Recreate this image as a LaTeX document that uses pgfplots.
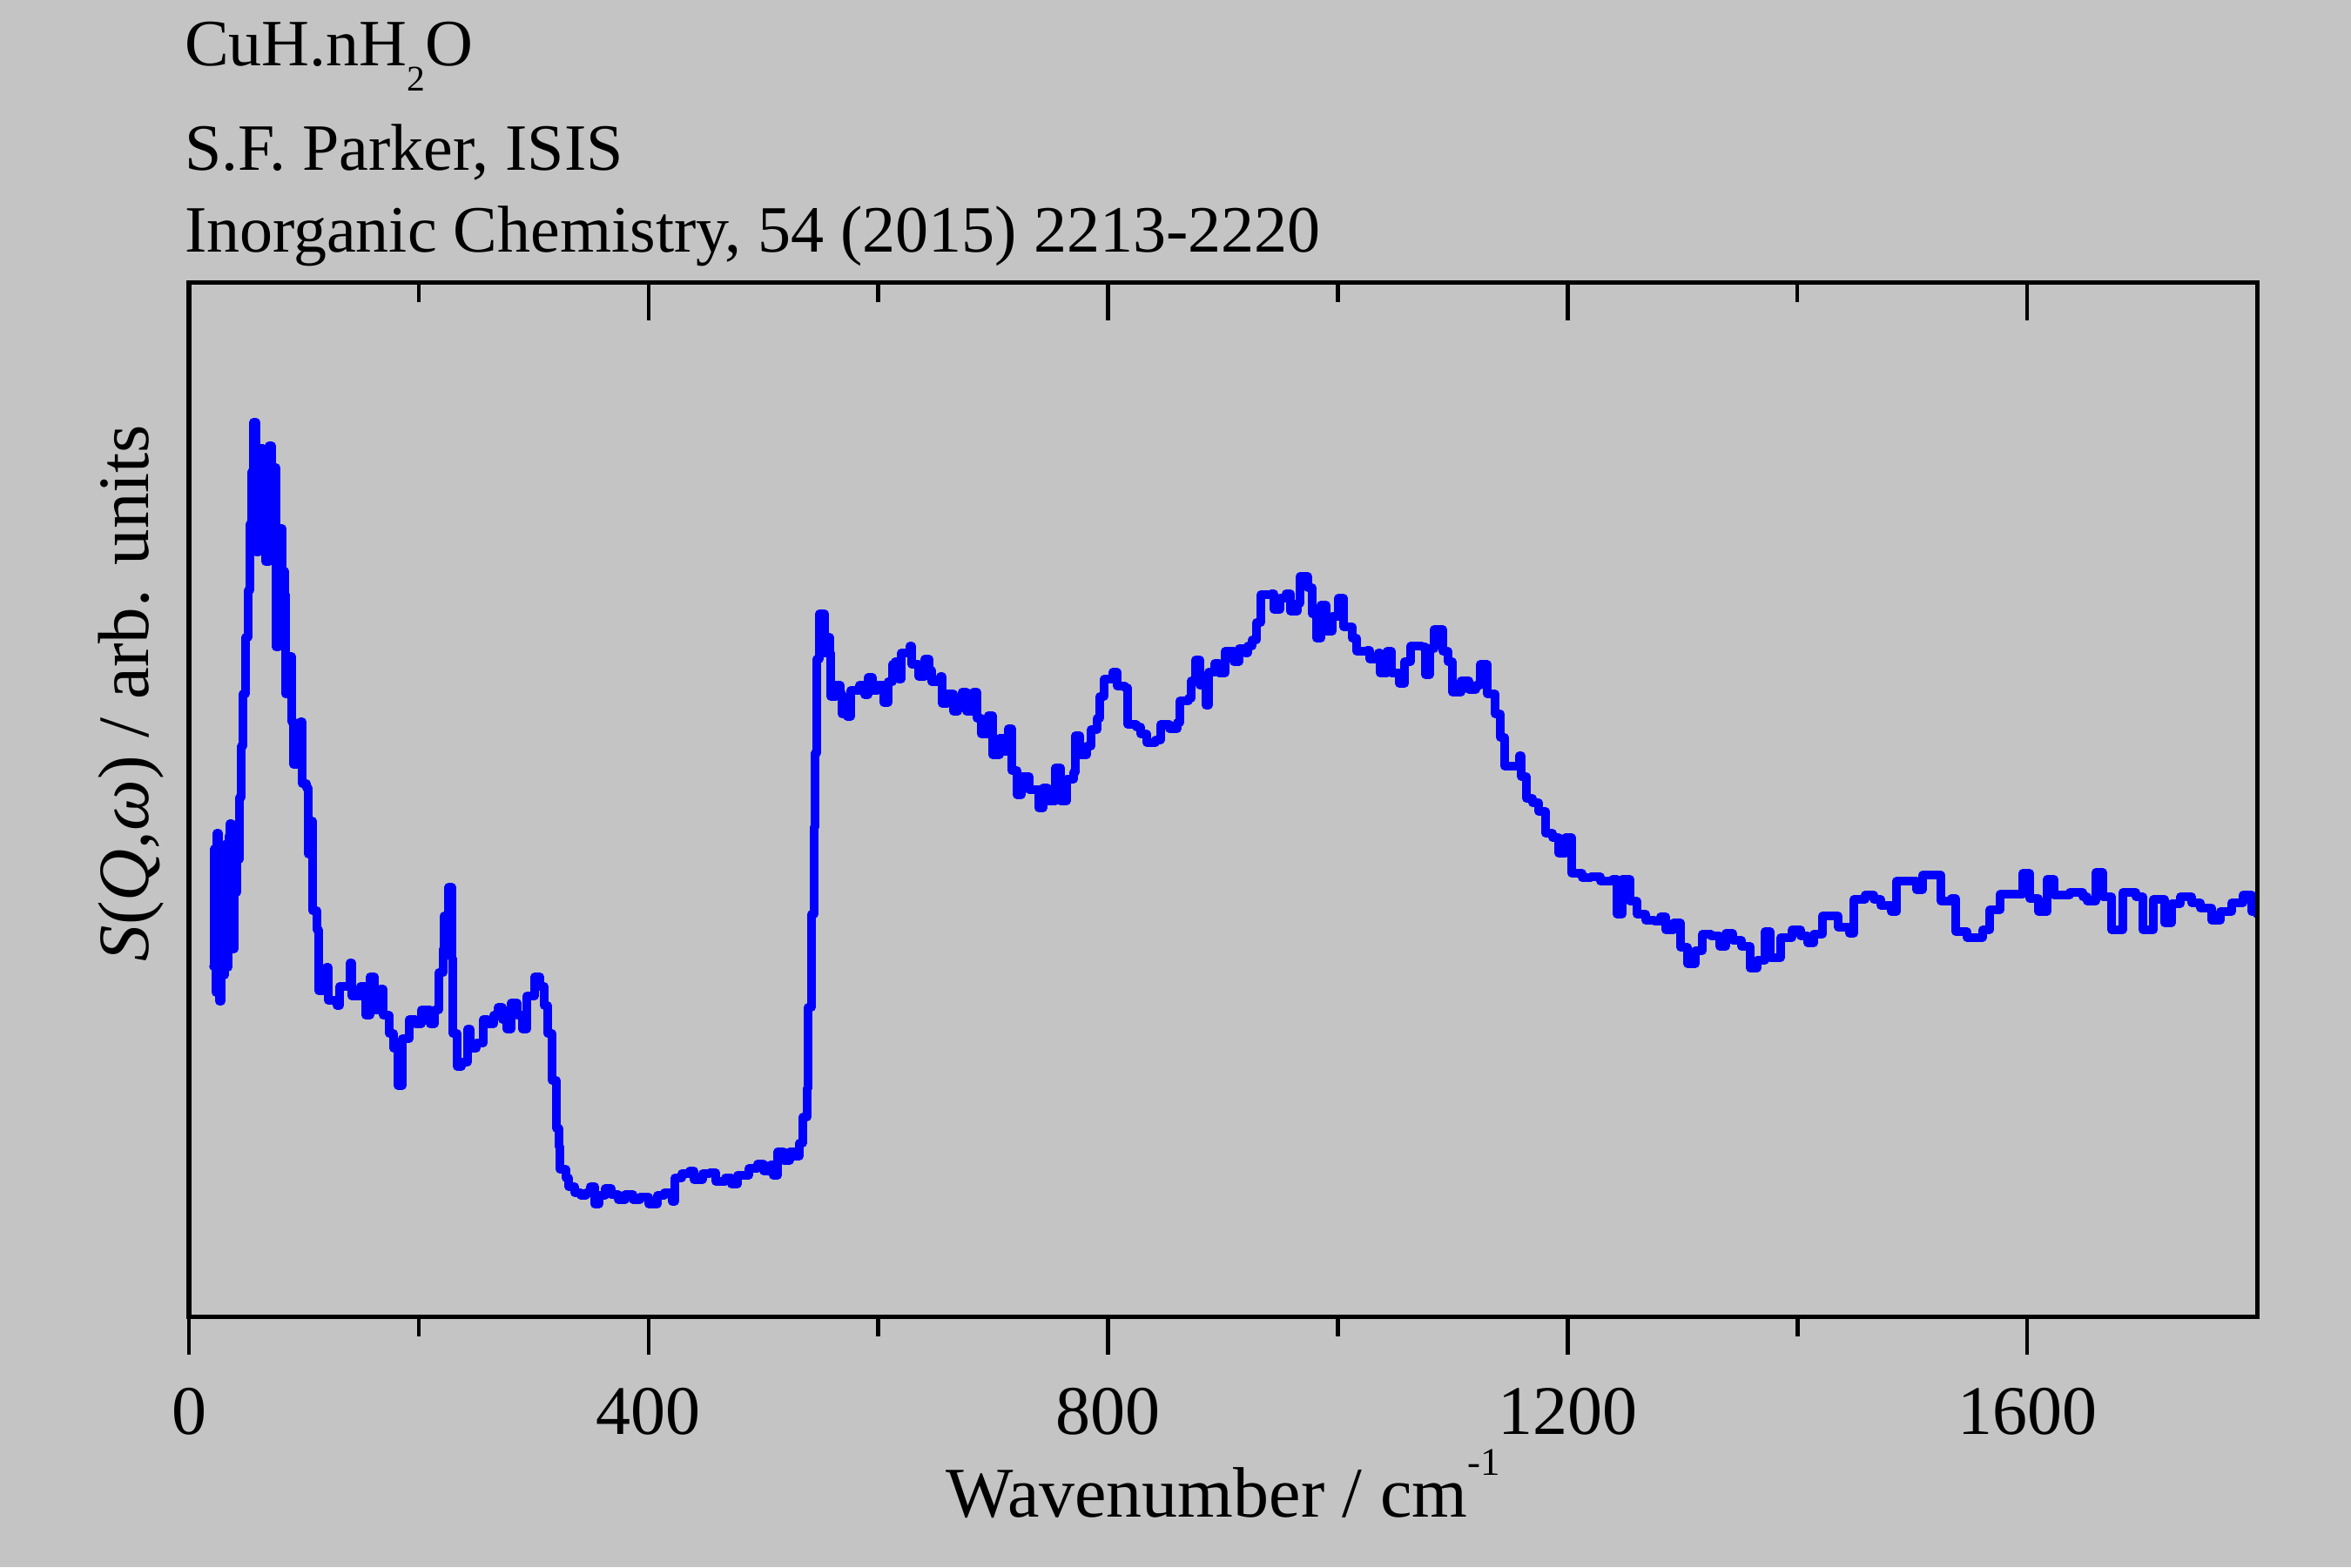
\documentclass[border=0pt]{standalone}
\usepackage{pgfplots}
\pgfplotsset{compat=1.18}
\usepackage{pgfplotstable}
\usepackage{fontspec}
\setmainfont{Liberation Serif}
\definecolor{bggray}{RGB}{196,196,196}
\definecolor{lineblue}{RGB}{0,0,255}

\pgfplotstableread{
x y
21.2 4.02
22.0 5.37
23.5 3.72
24.3 5.55
25.8 4.12
26.5 3.62
28.0 5.12
29.6 3.92
31.1 5.42
32.6 4.01
34.1 4.62
34.9 5.52
35.6 5.66
37.1 4.52
37.9 4.22
39.4 5.12
40.2 4.87
41.7 5.25
44.0 5.96
45.5 6.55
47.0 7.15
49.3 7.80
51.5 8.34
53.1 9.10
54.6 9.70
56.1 10.27
58.4 8.78
60.6 9.52
62.1 9.97
64.4 9.12
66.7 8.67
69.7 10.00
72.0 8.78
74.3 9.75
75.8 7.69
78.1 9.05
81.1 8.56
83.4 8.29
84.1 7.15
87.2 7.58
89.4 6.83
91.0 6.34
97.0 6.83
98.5 6.12
102.3 6.07
103.8 5.31
106.1 5.69
107.6 4.66
111.4 4.44
112.9 3.74
119.8 4.01
121.3 3.63
128.8 3.57
131.1 3.79
140.2 4.06
141.7 3.68
149.3 3.79
153.9 3.46
157.6 3.90
161.4 3.52
166.7 3.76
169.0 3.46
174.3 3.25
178.1 3.08
181.9 2.65
185.7 3.19
191.8 3.41
197.1 3.36
202.4 3.52
209.9 3.36
213.7 3.52
217.5 3.95
221.3 4.22
222.1 4.60
225.9 4.93
228.9 4.11
229.7 3.25
233.4 2.87
237.2 2.92
242.5 3.30
244.8 3.08
250.1 3.14
256.2 3.41
260.0 3.36
265.3 3.46
269.1 3.55
272.9 3.41
276.6 3.30
280.4 3.60
285.7 3.46
290.3 3.30
294.1 3.68
300.9 3.90
305.4 3.79
309.2 3.57
312.3 3.25
316.1 2.71
319.8 2.16
322.1 1.95
322.9 1.69
328.2 1.59
330.5 1.49
335.8 1.42
341.1 1.39
345.6 1.42
349.4 1.49
353.2 1.29
357.0 1.39
362.3 1.47
367.6 1.40
373.7 1.34
379.7 1.40
386.5 1.34
392.6 1.37
400.2 1.29
407.8 1.39
413.8 1.42
420.6 1.32
422.9 1.59
429.0 1.64
435.8 1.67
439.6 1.57
447.2 1.64
453.2 1.65
458.5 1.55
466.9 1.59
472.2 1.52
477.5 1.62
487.3 1.70
494.9 1.75
500.2 1.67
506.3 1.74
508.6 1.62
512.4 1.89
517.7 1.79
523.0 1.89
527.5 1.84
531.3 1.99
534.3 2.29
538.1 2.62
538.9 3.55
541.9 4.62
544.2 5.62
545.0 6.47
546.5 7.55
548.7 8.07
551.0 8.07
553.3 7.62
555.6 7.80
557.8 7.62
558.6 7.12
563.1 7.25
566.9 7.15
568.4 6.92
573.0 6.89
576.0 7.19
583.6 7.25
588.1 7.14
591.2 7.34
595.0 7.19
599.5 7.25
604.8 7.05
608.6 7.29
612.4 7.49
614.7 7.52
617.7 7.32
620.0 7.62
627.6 7.70
629.1 7.49
635.1 7.35
640.4 7.55
644.2 7.42
646.5 7.29
654.1 7.35
655.6 7.04
660.1 7.15
665.5 6.95
669.2 7.05
673.0 7.17
676.8 6.95
682.9 7.17
685.9 6.87
689.7 6.69
695.8 6.90
699.6 6.45
705.6 6.64
709.4 6.49
713.2 6.75
716.2 6.27
720.8 5.99
724.6 6.20
731.4 6.05
737.5 6.05
739.7 5.84
743.5 6.07
747.3 5.92
754.1 6.30
758.7 5.92
764.0 6.17
770.0 6.25
771.6 6.67
775.4 6.45
781.4 6.55
785.2 6.74
790.5 6.87
792.8 7.12
796.6 7.32
804.2 7.40
808.0 7.24
814.8 7.22
817.0 6.80
824.6 6.77
828.4 6.69
833.7 6.59
841.3 6.62
845.8 6.80
853.4 6.75
860.2 6.82
862.5 7.07
870.1 7.10
872.4 7.30
876.2 7.54
880.0 7.25
885.3 7.02
887.5 7.40
892.8 7.50
896.6 7.39
901.9 7.64
909.5 7.52
914.1 7.67
919.4 7.62
921.6 7.70
925.4 7.77
929.2 7.97
933.0 8.29
942.1 8.30
944.4 8.12
949.7 8.25
955.0 8.30
958.8 8.10
964.8 8.19
967.1 8.50
973.9 8.37
977.7 8.07
981.5 7.79
985.3 8.17
989.8 7.87
995.2 8.04
1000.5 8.25
1005.0 7.92
1012.6 7.79
1016.4 7.64
1025.5 7.65
1027.7 7.55
1035.3 7.62
1036.8 7.39
1042.9 7.64
1046.7 7.39
1053.5 7.27
1058.1 7.52
1063.4 7.70
1073.2 7.69
1076.2 7.37
1080.0 7.67
1083.8 7.89
1091.4 7.64
1096.0 7.52
1099.7 7.17
1107.3 7.30
1114.1 7.20
1120.2 7.25
1124.0 7.49
1130.1 7.15
1136.9 6.92
1141.4 6.65
1145.2 6.32
1158.1 6.44
1159.6 6.20
1164.2 5.95
1169.5 5.90
1174.8 5.80
1180.9 5.55
1186.9 5.50
1192.2 5.32
1198.3 5.50
1203.6 5.09
1212.7 5.04
1220.3 5.05
1228.6 5.00
1239.2 5.02
1243.0 4.62
1247.5 5.02
1254.4 4.77
1260.4 4.62
1268.0 4.55
1275.6 4.54
1280.9 4.59
1285.4 4.44
1292.3 4.52
1298.3 4.24
1304.4 4.05
1311.2 4.20
1317.3 4.39
1324.8 4.37
1332.4 4.25
1337.7 4.40
1343.8 4.32
1351.4 4.25
1359.0 4.00
1365.0 4.09
1371.8 4.42
1376.4 4.12
1385.5 4.35
1395.3 4.44
1402.9 4.37
1409.0 4.29
1414.3 4.39
1421.9 4.60
1431.7 4.60
1435.5 4.47
1445.3 4.40
1449.2 4.79
1459.0 4.84
1466.6 4.79
1472.6 4.72
1481.7 4.65
1486.3 5.00
1497.7 5.00
1503.7 4.90
1509.0 5.07
1520.4 5.07
1525.0 4.77
1534.0 4.80
1537.8 4.42
1547.7 4.35
1561.3 4.44
1567.4 4.67
1576.5 4.85
1590.1 4.85
1596.2 5.09
1602.2 4.80
1609.8 4.65
1617.4 5.02
1623.5 4.84
1637.1 4.87
1648.5 4.82
1652.3 4.77
1659.8 5.10
1665.9 4.82
1673.5 4.44
1683.3 4.87
1694.7 4.82
1700.8 4.44
1709.9 4.79
1719.7 4.52
1725.8 4.74
1733.4 4.82
1743.2 4.75
1750.8 4.69
1760.7 4.55
1768.2 4.65
1778.1 4.75
1787.9 4.84
1795.5 4.65
1800.0 4.62
}\spectrum

\begin{document}
\begin{tikzpicture}
\path[use as bounding box, fill=bggray] (-43.4pt,-57.6pt) rectangle (496.6pt,302.4pt);

\begin{axis}[
  at={(0,0)}, anchor=south west,
  scale only axis, width=475pt, height=237.6pt,
  xmin=0, xmax=1800, ymin=0, ymax=11.88,
  axis line style={line width=1pt, black},
  xtick={0,400,800,1200,1600},
  minor x tick num=1,
  xtick pos=lower,
  tick align=outside,
  major tick length=8.8pt,
  minor tick length=4.6pt,
  tick style={line width=0.9pt, black},
  ytick=\empty,
  /pgf/number format/1000 sep={},
  /pgf/number format/assume math mode=true,
  xticklabel style={font=\fontsize{16}{19}\selectfont, anchor=base, inner sep=0pt, yshift=-18.2pt},
  xlabel={Wavenumber / cm\raisebox{9.6pt}{\fontsize{9}{10}\selectfont -1}},
  xlabel style={font=\fontsize{16.4}{20}\selectfont, at={([yshift=-46pt]axis description cs:0.5,0)}, anchor=base, inner sep=0pt},
  ylabel={\textit{S}(\textit{Q},\textit{ω}) / arb. units},
  ylabel style={font=\fontsize{16.6}{20}\selectfont, at={([xshift=-9.4pt]axis description cs:0,0.6027)}, anchor=base, inner sep=0pt},
]
\addplot[const plot, color=lineblue, line width=1.9pt, line join=round, line cap=round] table[x=x, y=y] {\spectrum};
\end{axis}

\begin{axis}[
  at={(0,0)}, anchor=south west,
  scale only axis, width=475pt, height=237.6pt,
  xmin=0, xmax=1800, ymin=0, ymax=11.88,
  axis line style={line width=1pt, black},
  xtick={0,400,800,1200,1600},
  minor x tick num=1,
  xtick pos=upper,
  tick align=inside,
  major tick length=8.8pt,
  minor tick length=4.6pt,
  tick style={line width=0.9pt, black},
  ytick=\empty,
  xticklabels={},
]
\end{axis}

\node[anchor=base west, inner sep=0pt, font=\fontsize{15.2}{18}\selectfont] at (-1.2pt,287.4pt) {CuH.nH\raisebox{-5.8pt}{\fontsize{8.3}{10}\selectfont 2}O};
\node[anchor=base west, inner sep=0pt, font=\fontsize{15.2}{18}\selectfont] at (-1.2pt,263.4pt) {S.F. Parker, ISIS};
\node[anchor=base west, inner sep=0pt, font=\fontsize{15.2}{18}\selectfont] at (-1.2pt,244.6pt) {Inorganic Chemistry, 54 (2015) 2213-2220};
\end{tikzpicture}
\end{document}
